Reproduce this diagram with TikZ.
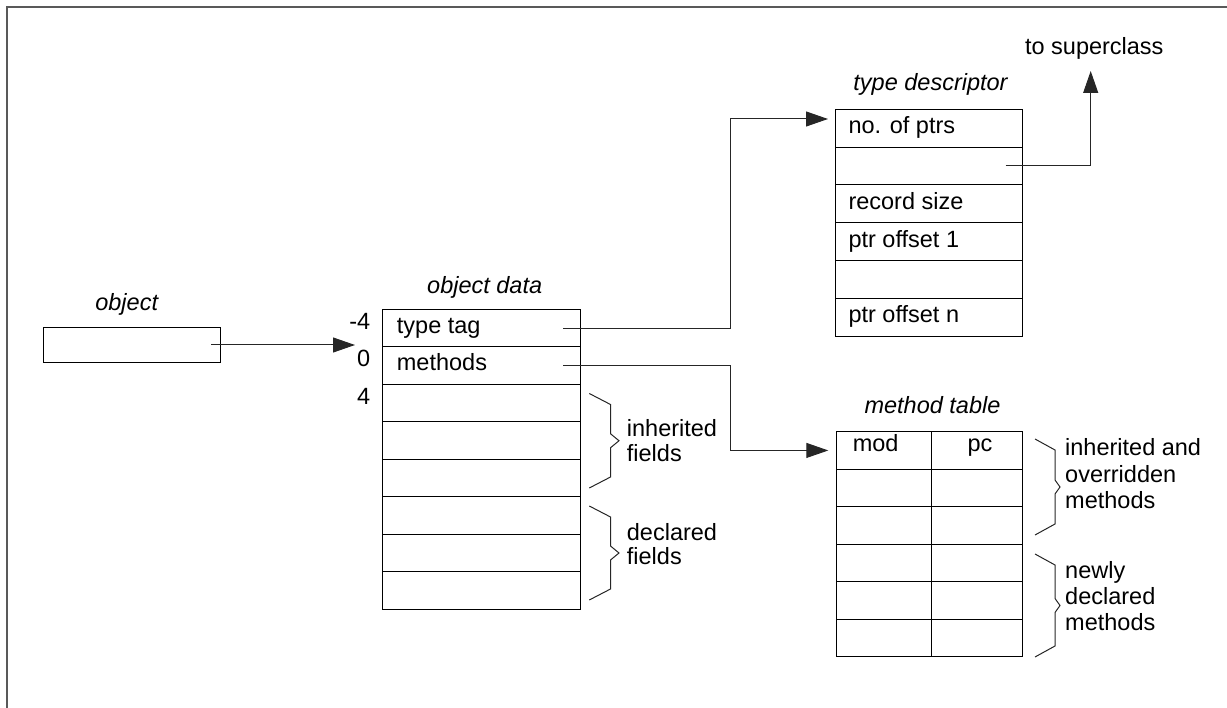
\documentclass[tikz,border=0pt]{standalone}
\usepackage{fontspec}
\setmainfont{Liberation Sans}
\usetikzlibrary{arrows.meta,calc}
\tikzset{
  cell/.style={draw=black, line width=1pt, inner sep=0pt, outer sep=0pt, anchor=north west, minimum height=#1},
  cell/.default=37.5pt,
  lbl/.style={inner sep=0pt, anchor=base west},
  clbl/.style={inner sep=0pt, anchor=base},
  ttl/.style={inner sep=0pt, anchor=base, font=\fontsize{23.5}{28}\selectfont\itshape},
  ptr/.style={draw=black!85, line width=1pt, -{Triangle[length=22pt,width=15pt]}},
  bracepath/.style={draw=black!85, line width=1pt},
  frame/.style={draw=black!65, line width=2pt}
}
\newcommand{\mybrace}[5]{% x0, ytop, ybot, xv, xtip
  \draw[bracepath] (#1,#2) -- (#4,{#2+11}) -- (#4,{(#2+#3)/2-7}) -- (#5,{(#2+#3)/2}) -- (#4,{(#2+#3)/2+7}) -- (#4,{#3-11}) -- (#1,#3);}
\begin{document}
\begin{tikzpicture}[x=1pt,y=-1pt,font=\fontsize{23.5}{28}\selectfont]
\useasboundingbox (0,0) rectangle (1227,708);
% partial frame
\draw[frame] (7,708) -- (7,7.5) -- (1227,7.5);

% object
\node[ttl] (objt) at (126.7,310.7) {object};
\node[cell, minimum width=177pt, minimum height=34.6pt] (obj) at (43.3,327.7) {};

% object data
\node[ttl] (odt) at (484.7,293.3) {object data};
\foreach \i in {1,...,8}
  \node[cell, minimum width=198pt] (od\i) at (382.7,{309.3+(\i-1)*37.5}) {};
\node[lbl] (ttag) at (396.7,333.3) {type tag};
\node[lbl] (meth) at (396.7,370.8) {methods};
\node[inner sep=0pt, anchor=base east] (offm4) at (370.5,330) {-4};
\node[inner sep=0pt, anchor=base east] (off0) at (370.5,367) {0};
\node[inner sep=0pt, anchor=base east] (off4) at (370.5,404.5) {4};

% braces for object data
\mybrace{589.3}{393.5}{488}{610.5}{619}
\mybrace{589.3}{506}{600}{610.5}{619}
\node[lbl] (inh1) at (626.7,437) {inherited};
\node[lbl] (inh2) at (626.7,462) {fields};
\node[lbl] (dec1) at (626.7,540) {declared};
\node[lbl] (dec2) at (626.7,565) {fields};

% type descriptor
\node[clbl] (super) at (1094.3,55) {to superclass};
\node[ttl] (tdt) at (930.5,91) {type descriptor};
\foreach \i in {1,...,6}
  \node[cell=37.8pt, minimum width=187.7pt] (td\i) at (835,{109.3+(\i-1)*37.8}) {};
\node[lbl] (tdl1) at (848.3,133.8) {no. of ptrs};
\node[lbl] (tdl3) at (848.3,209.4) {record size};
\node[lbl] (tdl4) at (848.3,247.2) {ptr offset 1};
\node[lbl] (tdl6) at (848.3,322.8) {ptr offset n};

% method table
\node[ttl] (mtt) at (932.5,414) {method table};
\foreach \i in {1,...,6} {
  \node[cell, minimum width=95pt] (ml\i) at (836,{431.7+(\i-1)*37.5}) {};
  \node[cell, minimum width=91.7pt] (mr\i) at (931,{431.7+(\i-1)*37.5}) {};
}
\node[clbl] (mod) at (875.6,451.7) {mod};
\node[clbl] (pc) at (980,451.7) {pc};

% braces for method table
\mybrace{1035}{439}{535}{1055}{1060}
\mybrace{1035}{554}{657}{1055}{1060}
\node[lbl] (mi1) at (1065,456) {inherited and};
\node[lbl] (mi2) at (1065,483) {overridden};
\node[lbl] (mi3) at (1065,509) {methods};
\node[lbl] (mn1) at (1065,578) {newly};
\node[lbl] (mn2) at (1065,604) {declared};
\node[lbl] (mn3) at (1065,630) {methods};

% connectors
\coordinate (objp) at ([xshift=-9pt]obj.east);
\coordinate (odin) at ([xshift=-27.7pt]od1.south west);
\draw[ptr] (objp) -- (odin |- objp);

\coordinate (bend) at (730.7,0);
\coordinate (ttp) at ([xshift=-17.4pt]od1.east);
\coordinate (tdin) at ([xshift=-7pt,yshift=9.2pt]td1.west);
\draw[ptr] (ttp) -| (bend |- tdin) -- (tdin);

\coordinate (mp) at ([xshift=-17.4pt]od2.east);
\coordinate (mtin) at ([xshift=-7.7pt]ml1.west);
\draw[ptr] (mp) -| (bend |- mtin) -- (mtin);

\coordinate (scp) at ([xshift=-17pt]td2.east);
\coordinate (suptip) at ([xshift=-3.6pt,yshift=-16pt]super.base);
\draw[ptr] (scp) -| (suptip);
\end{tikzpicture}
\end{document}
